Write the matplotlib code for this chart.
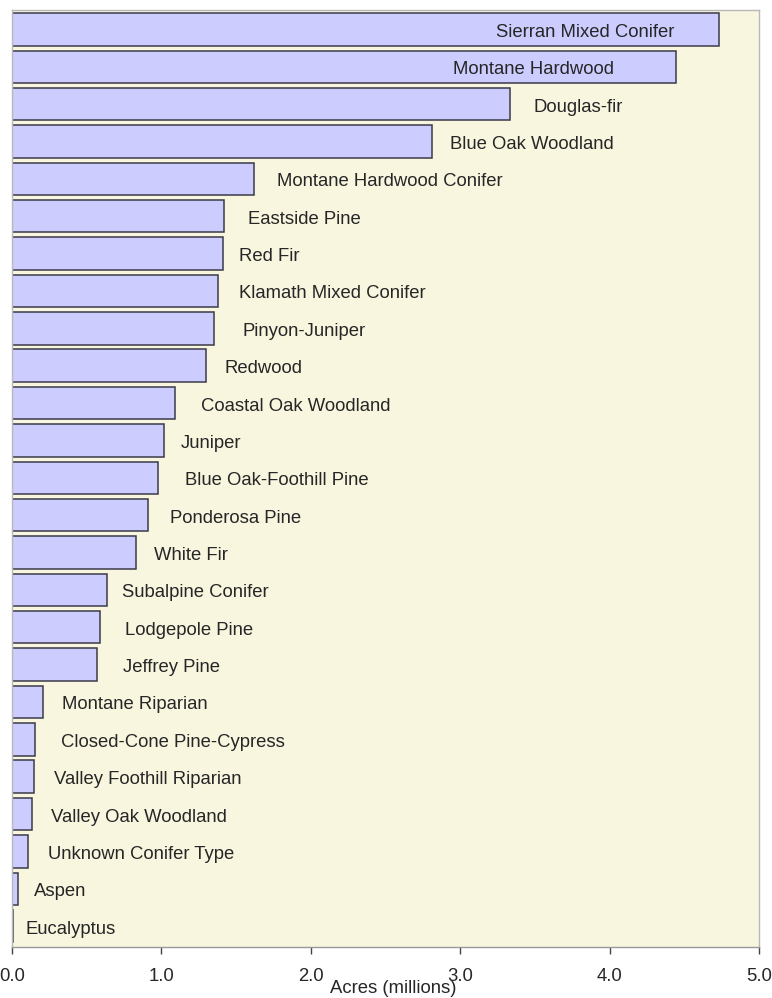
import matplotlib.pyplot as plt
import matplotlib.transforms as mtransforms

plt.rcParams['font.family'] = ['Liberation Sans', 'DejaVu Sans']

# forest types, largest first (top of chart)
forest_types = [
    "Sierran Mixed Conifer", "Montane Hardwood", "Douglas-fir", "Blue Oak Woodland",
    "Montane Hardwood Conifer", "Eastside Pine", "Red Fir", "Klamath Mixed Conifer",
    "Pinyon-Juniper", "Redwood", "Coastal Oak Woodland", "Juniper",
    "Blue Oak-Foothill Pine", "Ponderosa Pine", "White Fir", "Subalpine Conifer",
    "Lodgepole Pine", "Jeffrey Pine", "Montane Riparian", "Closed-Cone Pine-Cypress",
    "Valley Foothill Riparian", "Valley Oak Woodland", "Unknown Conifer Type",
    "Aspen", "Eucalyptus",
]
# acres, millions
acres = [
    4.73, 4.44, 3.33, 2.81,
    1.62, 1.42, 1.41, 1.38,
    1.35, 1.30, 1.09, 1.02,
    0.98, 0.91, 0.83, 0.64,
    0.59, 0.57, 0.21, 0.156,
    0.149, 0.136, 0.107,
    0.042, 0.01,
]
xticks = [0.0, 1.0, 2.0, 3.0, 4.0, 5.0]
xtick_labels = ["0.0", "1.0", "2.0", "3.0", "4.0", "5.0"]

# horizontal label nudges (pixels from bar end)
label_nudge = [
    -223, -223, 24, 18,
    23, 24, 16, 21,
    29, 18, 26, 17,
    27, 22, 18, 15,
    25, 26, 19, 26,
    20, 19, 20,
    16, 12,
]

fig = plt.figure(figsize=(7.72, 9.98), dpi=100)
ax = fig.add_axes([0.0152, 0.0514, 0.9683, 0.9386])
ax.set_facecolor('#f9f6df')

ypos = list(range(len(forest_types)))
ax.barh(ypos, acres, height=0.87, color='#ccccff', edgecolor='#3a3a48', linewidth=1.1)

for y, v, name, dx in zip(ypos, acres, forest_types, label_nudge):
    trans = mtransforms.offset_copy(ax.transData, fig=fig, x=dx, y=-3, units='dots')
    ax.text(v, y, name, transform=trans, ha='left', va='center',
            fontsize=13.3, color='#262626')

ax.set_xlim(0, 5.0)
ax.set_ylim(len(forest_types) - 0.45, -0.52)
ax.set_xticks(xticks)
ax.set_xticklabels(xtick_labels, fontsize=13.3, color='#262626')
ax.set_yticks([])
ax.tick_params(axis='x', length=5, width=1, color='#444444', pad=10)

for s in ['top', 'right', 'left']:
    ax.spines[s].set_color('#b8b8b8')
    ax.spines[s].set_linewidth(1)
ax.spines['bottom'].set_color('#999999')
ax.spines['bottom'].set_linewidth(1)

ax.set_xlabel("Acres (millions)", fontsize=13.3, color='#262626')
ax.xaxis.set_label_coords(0.51, -0.0355)

fig.savefig("out.png", dpi=100)
